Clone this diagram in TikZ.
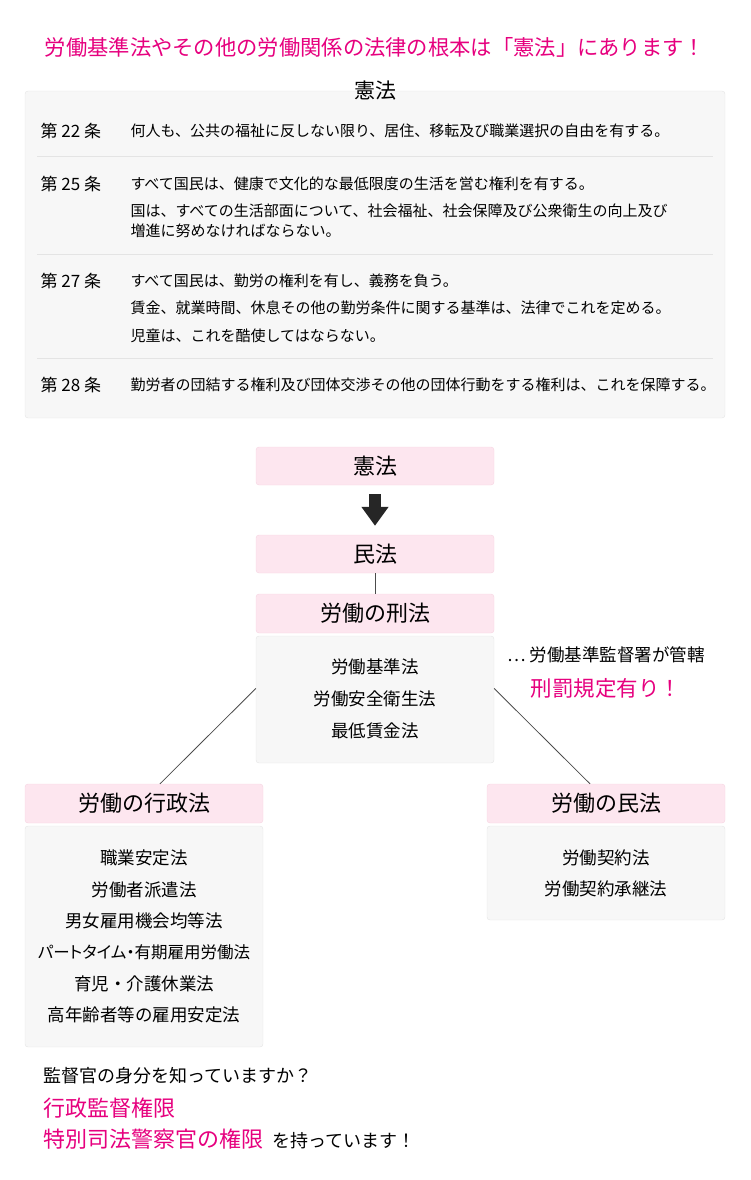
\documentclass[tikz,border=0pt]{standalone}
\usepackage{fontspec}
\setmainfont{Noto Sans CJK JP}
\usetikzlibrary{arrows.meta}
\definecolor{accent}{HTML}{E6007E}
\definecolor{headfill}{HTML}{FDE6EF}
\definecolor{headline}{HTML}{F6D4E1}
\definecolor{bodyfill}{HTML}{F7F7F7}
\definecolor{bodyline}{HTML}{E4E4E4}
\begin{document}
\begin{tikzpicture}[x=1pt,y=-1pt,
    pinkhead/.style={draw=headline,fill=headfill,rounded corners=3pt,minimum width=238pt,minimum height=39pt,font=\fontsize{22}{26}\selectfont},
    graybody/.style={draw=bodyline,fill=bodyfill,rounded corners=3pt,minimum width=238pt},
    item/.style={font=\fontsize{17.5}{21}\selectfont},
    artno/.style={anchor=west,font=\fontsize{17}{20}\selectfont},
    art/.style={anchor=west,font=\fontsize{15}{18}\selectfont},
    link/.style={draw=black!70,line width=0.8pt}]
    \useasboundingbox (0,0) rectangle (750,1180);
    \node[accent,font=\fontsize{21.3}{25}\selectfont] (title) at (375,47) {労働基準法やその他の労働関係の法律の根本は「憲法」にあります！};

    % Constitution %
    \node[graybody,minimum width=700pt,minimum height=327pt] (cbox) at (375,254.5) {};
    \node[font=\fontsize{21}{25}\selectfont] (ctitle) at (375,91) {憲法};
    \draw[bodyline] (37,156) -- (713,156) (37,254) -- (713,254) (37,358) -- (713,358);
    \node[artno] (n22) at (37,131) {第 22 条};
    \node[art] (t22) at (127,131) {何人も、公共の福祉に反しない限り、居住、移転及び職業選択の自由を有する。};
    \node[artno] (n25) at (37,184) {第 25 条};
    \node[art] (t25a) at (127,184) {すべて国民は、健康で文化的な最低限度の生活を営む権利を有する。};
    \node[art] (t25b) at (127,211) {国は、すべての生活部面について、社会福祉、社会保障及び公衆衛生の向上及び};
    \node[art] (t25c) at (127,231) {増進に努めなければならない。};
    \node[artno] (n27) at (37,281) {第 27 条};
    \node[art] (t27a) at (127,281) {すべて国民は、勤労の権利を有し、義務を負う。};
    \node[art] (t27b) at (127,308) {賃金、就業時間、休息その他の勤労条件に関する基準は、法律でこれを定める。};
    \node[art] (t27c) at (127,336) {児童は、これを酷使してはならない。};
    \node[artno] (n28) at (37,385) {第 28 条};
    \node[art] (t28) at (127,385) {勤労者の団結する権利及び団体交渉その他の団体行動をする権利は、これを保障する。};

    % Flow %
    \node[pinkhead,minimum height=38pt] (kenpo) at (375,466) {憲法};
    \node[pinkhead,minimum height=38pt] (minpo) at (375,554) {民法};
    \draw[draw=black!85,line width=12pt,-{Triangle[width=26pt,length=19pt]}] ([yshift=-9pt]kenpo.south) -- ([yshift=9pt]minpo.north);
    \node[pinkhead] (keihead) at (375,613.5) {労働の刑法};
    \node[graybody,minimum height=127pt] (keibody) at (375,699.5) {};
    \draw[link] (minpo.south) -- (keihead.north);
    \foreach \t [count=\i] in {労働基準法,労働安全衛生法,最低賃金法}
        \node[item] (kei\i) at (375,667+32*\i-32) {\t};
    \node[anchor=west,font=\fontsize{17.5}{21}\selectfont] (kantoku) at (504,655) {… 労働基準監督署が管轄};
    \node[anchor=west,accent,font=\fontsize{21.5}{25}\selectfont] (keibatsu) at (527,688) {刑罰規定有り！};

    \node[pinkhead] (gyohead) at (144,803.5) {労働の行政法};
    \node[graybody,minimum height=221pt] (gyobody) at (144,936.5) {};
    \foreach \t [count=\i] in {職業安定法,労働者派遣法,男女雇用機会均等法,{\addfontfeature{RawFeature=+palt}\fontsize{16.5}{20}\selectfont パートタイム・有期雇用労働法},育児・介護休業法,高年齢者等の雇用安定法}
        \node[item] (gyo\i) at (144,858+31.4*\i-31.4) {\t};

    \node[pinkhead] (minhead) at (606,803.5) {労働の民法};
    \node[graybody,minimum height=94pt] (minbody) at (606,873) {};
    \foreach \t [count=\i] in {労働契約法,労働契約承継法}
        \node[item] (min\i) at (606,858+31*\i-31) {\t};

    \draw[link] ([yshift=11pt]keibody.west) -- ([xshift=16pt]gyohead.north);
    \draw[link] ([yshift=11pt]keibody.east) -- ([xshift=-16pt]minhead.north);

    % Note %
    \node[anchor=west,font=\fontsize{18}{21}\selectfont] (ask) at (40,1076) {監督官の身分を知っていますか？};
    \node[anchor=west,accent,font=\fontsize{22}{26}\selectfont] (gyosei) at (40,1108) {行政監督権限};
    \node[anchor=west,accent,font=\fontsize{22}{26}\selectfont] (tokubetsu) at (40,1139) {特別司法警察官の権限};
    \node[anchor=base west,font=\fontsize{18}{21}\selectfont] (motsu) at ([xshift=2pt]tokubetsu.base east) {を持っています！};
\end{tikzpicture}
\end{document}
